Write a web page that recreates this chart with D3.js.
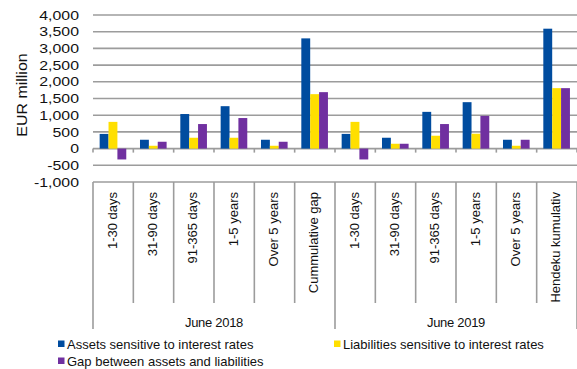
<!DOCTYPE html>
<html>
<head>
<meta charset="utf-8">
<script src="https://cdn.jsdelivr.net/npm/d3@7"></script>
<style>
  html, body { margin: 0; padding: 0; background: #fff; }
  svg { display: block; font-family: "Liberation Sans", Arial, sans-serif; }
</style>
</head>
<body>
<svg id="chart" width="577" height="369"></svg>
<script>
// ---- data ----
const categories = ["1-30 days", "31-90 days", "91-365 days", "1-5 years", "Over 5 years", "Cummulative gap",
                    "1-30 days", "31-90 days", "91-365 days", "1-5 years", "Over 5 years", "Hendeku kumulativ"];
const groups = ["June 2018", "June 2019"];
const groupSize = [6, 6];
const seriesNames = ["Assets sensitive to interest rates", "Liabilities sensitive to interest rates", "Gap between assets and liabilities"];
const assets      = [440, 265, 1035, 1270, 265, 3300, 440, 325, 1100, 1390, 265, 3590];
const liabilities = [800, 85, 325, 325, 85, 1630, 800, 145, 385, 445, 85, 1810];
const gap         = [-325, 205, 735, 915, 205, 1690, -325, 145, 735, 980, 265, 1810];
const yTicks = [-1000, -500, 0, 500, 1000, 1500, 2000, 2500, 3000, 3500, 4000];
const colors = ["#004c9f", "#ffdf00", "#7030a0"];

const series = [assets, liabilities, gap];

const svg = d3.select("#chart");
const plotLeft = 93, plotRight = 577, plotTop = 15, axisBottom = 182;
const gridColor = "#9c9c9c";

const y = d3.scaleLinear().domain([-1000, 4000]).range([axisBottom, plotTop]);
const x = d3.scaleBand().domain(d3.range(categories.length)).range([plotLeft, plotRight]).padding(0);
const bw = x.bandwidth();
const x1 = d3.scaleBand().domain(d3.range(series.length)).range([bw * 0.165, bw * 0.825]).padding(0);
const fmt = v => d3.format(",")(v).replace("\u2212", "-");

// gridlines
svg.append("g").selectAll("line").data(yTicks).join("line")
  .attr("x1", plotLeft).attr("x2", plotRight)
  .attr("y1", d => y(d)).attr("y2", d => y(d))
  .attr("stroke", gridColor).attr("stroke-width", 1.6);

// y tick labels (slightly stretched like the original)
svg.append("g").selectAll("text").data(yTicks).join("text")
  .attr("transform", d => `translate(79,${y(d)}) scale(1.22,1)`)
  .attr("text-anchor", "end")
  .attr("dy", "0.36em")
  .attr("font-size", 13)
  .attr("fill", "#111")
  .text(d => fmt(d));

// y axis title
svg.append("text")
  .attr("transform", `translate(27,${(53 + 137) / 2}) rotate(-90) scale(1.14,1)`)
  .attr("text-anchor", "middle")
  .attr("font-size", 14)
  .attr("fill", "#111")
  .text("EUR million");

// bars
const barData = [];
categories.forEach((c, i) => series.forEach((s, j) => barData.push({ i, j, v: s[i] })));
svg.append("g").selectAll("rect").data(barData).join("rect")
  .attr("x", d => x(d.i) + x1(d.j))
  .attr("width", x1.bandwidth())
  .attr("y", d => y(Math.max(0, d.v)))
  .attr("height", d => Math.abs(y(d.v) - y(0)))
  .attr("fill", d => colors[d.j]);

// zero axis ticks at category boundaries
const bounds = d3.range(categories.length + 1).map(i => i < categories.length ? x(i) : plotRight);
svg.append("g").selectAll("line").data(bounds).join("line")
  .attr("x1", d => d).attr("x2", d => d)
  .attr("y1", y(0)).attr("y2", y(0) + 4)
  .attr("stroke", gridColor).attr("stroke-width", 1.6);

// category label box verticals
const groupEdges = [0];
groupSize.forEach(n => groupEdges.push(groupEdges[groupEdges.length - 1] + n));
svg.append("g").selectAll("line").data(d3.range(categories.length + 1)).join("line")
  .attr("x1", i => bounds[i]).attr("x2", i => bounds[i])
  .attr("y1", axisBottom)
  .attr("y2", i => groupEdges.includes(i) ? 329 : 303)
  .attr("stroke", gridColor).attr("stroke-width", 1.6);

// category labels
svg.append("g").selectAll("text").data(categories).join("text")
  .attr("transform", (d, i) => `translate(${x(i) + bw / 2 - 1},192) rotate(-90)`)
  .attr("text-anchor", "end")
  .attr("dy", "0.35em")
  .attr("font-size", 13)
  .attr("fill", "#111")
  .text(d => d);

// group labels
svg.append("g").selectAll("text").data(groups).join("text")
  .attr("x", (d, k) => (bounds[groupEdges[k]] + bounds[groupEdges[k + 1]]) / 2)
  .attr("y", 327)
  .attr("text-anchor", "middle")
  .attr("font-size", 13)
  .attr("letter-spacing", -0.3)
  .attr("fill", "#111")
  .text(d => d);

// legend
const legendPos = [{ x: 58, y: 344 }, { x: 334, y: 344 }, { x: 58, y: 361 }];
const lg = svg.append("g").selectAll("g").data(seriesNames).join("g")
  .attr("transform", (d, j) => `translate(${legendPos[j].x},${legendPos[j].y})`);
lg.append("rect").attr("x", 0).attr("y", -3.5).attr("width", 6.5).attr("height", 6.5)
  .attr("fill", (d, j) => colors[j]);
lg.append("text").attr("x", 9).attr("y", 4.5)
  .attr("font-size", 13).attr("fill", "#111")
  .text(d => d);
</script>
</body>
</html>
